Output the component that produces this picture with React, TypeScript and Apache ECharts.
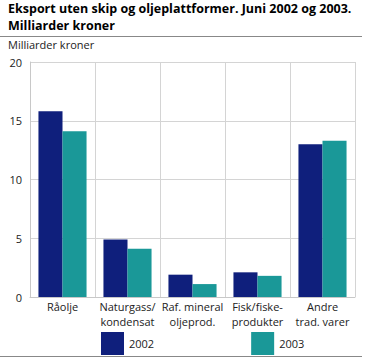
import React, { useEffect, useRef } from "react";
import * as echarts from "echarts";

const categories = ["Råolje", "Naturgass/\nkondensat", "Raf. mineral\noljeprod.", "Fisk/fiske-\nprodukter", "Andre\ntrad. varer"];
const values2002 = [15.8, 4.9, 1.9, 2.1, 13.0];
const values2003 = [14.1, 4.1, 1.1, 1.8, 13.3];
const seriesNames = ["2002", "2003"];
const colors = ["#0f1f7c", "#1a9898"];

export default function App() {
  const ref = useRef<HTMLDivElement>(null);
  useEffect(() => {
    const chart = echarts.init(ref.current!, null, { renderer: "svg" });
    const font = "'Open Sans', sans-serif";
    chart.setOption({
      animation: false,
      textStyle: { fontFamily: font },
      graphic: [
        { type: "text", left: 8, top: 2, style: { text: "Eksport uten skip og oljeplattformer. Juni 2002 og 2003.", font: `bold 12.5px ${font}`, fill: "#000" } },
        { type: "text", left: 8, top: 19, style: { text: "Milliarder kroner", font: `bold 12.5px ${font}`, fill: "#000" } },
        { type: "line", shape: { x1: 0, y1: 36.5, x2: 362, y2: 36.5 }, style: { stroke: "#888", lineWidth: 1 } },
        { type: "text", left: 8, top: 39, style: { text: "Milliarder kroner", font: `11px ${font}`, fill: "#222" } },
        { type: "line", shape: { x1: 0, y1: 356.5, x2: 362, y2: 356.5 }, style: { stroke: "#888", lineWidth: 1 } },
      ],
      legend: {
        top: 332,
        left: 101,
        padding: 0,
        itemWidth: 23,
        itemHeight: 23,
        itemGap: 97,
        icon: "rect",
        textStyle: { fontSize: 11, color: "#222", fontFamily: font },
        data: seriesNames,
      },
      grid: { left: 30, right: 11, top: 62, bottom: 61 },
      xAxis: {
        type: "category",
        data: categories,
        axisLine: { lineStyle: { color: "#c8c8c8" } },
        axisTick: { show: false },
        splitLine: { show: true, lineStyle: { color: "#d4d4d4" } },
        axisLabel: { color: "#222", fontSize: 11, lineHeight: 15, margin: 2, interval: 0 },
      },
      yAxis: {
        type: "value",
        min: 0,
        max: 20,
        interval: 5,
        axisLine: { show: true, lineStyle: { color: "#c8c8c8" } },
        axisTick: { show: false },
        splitLine: { lineStyle: { color: "#d4d4d4" } },
        axisLabel: { color: "#222", fontSize: 11, margin: 8 },
      },
      series: [
        { name: seriesNames[0], type: "bar", data: values2002, itemStyle: { color: colors[0] }, barGap: "0%", barCategoryGap: "26%" },
        { name: seriesNames[1], type: "bar", data: values2003, itemStyle: { color: colors[1] }, barGap: "0%", barCategoryGap: "26%" },
      ],
    });
    return () => chart.dispose();
  }, []);
  return <div ref={ref} style={{ width: 366, height: 358, position: "absolute", left: 0, top: 0 }} />;
}
